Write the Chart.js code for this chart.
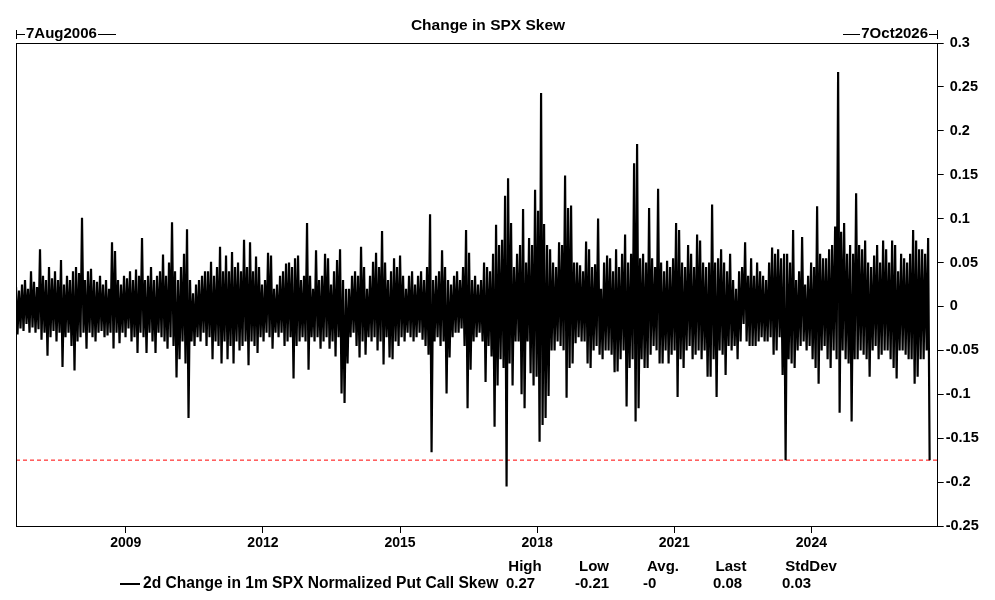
<!DOCTYPE html>
<html>
<head>
<meta charset="utf-8">
<script src="https://cdn.jsdelivr.net/npm/chart.js@4/dist/chart.umd.min.js"></script>
<style>
html,body{margin:0;padding:0;background:#fff;}
#wrap{position:relative;width:995px;height:600px;font-family:"Liberation Sans",Arial,sans-serif;font-weight:bold;color:#000;overflow:hidden;}
#c{position:absolute;left:0;top:0;}
.t{position:absolute;font-size:15px;line-height:16px;white-space:nowrap;}
.hl{display:inline-block;height:1px;background:#000;vertical-align:middle;margin:0 1px;}
.vb{display:inline-block;width:1px;height:9px;background:#000;vertical-align:middle;}
</style>
</head>
<body>
<div id="wrap">
<canvas id="c" width="995" height="600"></canvas>
<div class="t" id="title" style="left:0;width:976px;text-align:center;top:17px;font-size:15.5px;"></div>
<div class="t" id="startLbl" style="left:16px;top:25px;"></div>
<div class="t" id="endLbl" style="right:57px;top:25px;"></div>
<div class="t" id="legend" style="left:120px;top:575px;font-size:15.6px;"></div>
<div id="stats"></div>
</div>
<script>
// ---- data ----
const chartTitle = "Change in SPX Skew";
const seriesName = "2d Change in 1m SPX Normalized Put Call Skew";
const startDateLabel = "7Aug2006";
const endDateLabel = "7Oct2026";
const startYear = 2006.597;   // 7 Aug 2006
const endYear = 2026.764;     // 7 Oct 2026
const periodStep = 0.06565;   // years per sampled period (~24 days)
// per-period high of the 2d change
const periodHigh = [
0.022,0.018,0.025,0.03,0.02,0.04,0.028,0.022,0.065,0.035,
0.03,0.045,0.032,0.04,0.03,0.053,0.025,0.035,0.03,0.04,
0.045,0.038,0.101,0.03,0.04,0.043,0.03,0.028,0.035,0.025,
0.03,0.02,0.073,0.063,0.03,0.025,0.035,0.032,0.04,0.03,
0.042,0.035,0.078,0.03,0.035,0.045,0.03,0.035,0.04,0.059,
0.035,0.05,0.096,0.04,0.03,0.045,0.06,0.088,0.03,0.015,
0.025,0.03,0.035,0.04,0.04,0.051,0.035,0.045,0.068,0.04,
0.058,0.04,0.062,0.045,0.05,0.04,0.076,0.045,0.073,0.04,
0.057,0.045,0.025,0.03,0.061,0.058,0.02,0.025,0.035,0.04,
0.049,0.05,0.045,0.055,0.058,0.03,0.035,0.095,0.035,0.02,
0.064,0.03,0.035,0.06,0.055,0.025,0.04,0.053,0.065,0.03,
0.02,0.02,0.035,0.04,0.035,0.068,0.045,0.02,0.035,0.051,
0.061,0.045,0.086,0.05,0.03,0.04,0.055,0.045,0.058,0.035,
0.02,0.035,0.04,0.025,0.035,0.04,0.03,0.045,0.105,0.03,
0.035,0.04,0.064,0.045,0.03,0.025,0.035,0.04,0.03,0.045,
0.087,0.061,0.03,0.035,0.025,0.03,0.05,0.045,0.04,0.06,
0.093,0.07,0.076,0.126,0.146,0.095,0.045,0.06,0.07,0.111,
0.05,0.078,0.07,0.133,0.109,0.243,0.094,0.07,0.065,0.05,
0.045,0.073,0.07,0.149,0.112,0.115,0.05,0.05,0.047,0.04,
0.074,0.065,0.045,0.048,0.1,0.02,0.05,0.058,0.055,0.04,
0.065,0.045,0.06,0.082,0.05,0.06,0.163,0.185,0.055,0.06,
0.05,0.112,0.055,0.045,0.134,0.05,0.04,0.052,0.045,0.055,
0.095,0.087,0.05,0.045,0.07,0.06,0.045,0.082,0.075,0.05,
0.045,0.05,0.116,0.05,0.055,0.065,0.05,0.04,0.06,0.03,
0.02,0.04,0.045,0.073,0.035,0.055,0.035,0.05,0.04,0.035,
0.03,0.05,0.067,0.06,0.065,0.055,0.06,0.06,0.05,0.087,
0.03,0.04,0.079,0.025,0.035,0.05,0.045,0.114,0.06,0.055,
0.055,0.065,0.07,0.091,0.267,0.085,0.095,0.06,0.07,0.06,
0.129,0.07,0.065,0.075,0.05,0.045,0.058,0.07,0.05,0.075,
0.065,0.05,0.075,0.07,0.04,0.06,0.055,0.05,0.06,0.087,
0.075,0.065,0.065,0.06,0.078
];
// per-period low of the 2d change
const periodLow = [
-0.032,-0.025,-0.028,-0.02,-0.03,-0.024,-0.03,-0.026,-0.038,-0.03,
-0.056,-0.035,-0.028,-0.04,-0.03,-0.069,-0.035,-0.03,-0.045,-0.073,
-0.04,-0.035,-0.03,-0.048,-0.03,-0.035,-0.04,-0.03,-0.028,-0.035,
-0.033,-0.03,-0.048,-0.03,-0.042,-0.03,-0.035,-0.025,-0.04,-0.035,
-0.053,-0.03,-0.035,-0.053,-0.03,-0.04,-0.053,-0.03,-0.035,-0.04,
-0.048,-0.035,-0.045,-0.081,-0.06,-0.04,-0.065,-0.127,-0.04,-0.045,
-0.035,-0.04,-0.03,-0.045,-0.035,-0.06,-0.04,-0.045,-0.065,-0.04,
-0.06,-0.045,-0.065,-0.04,-0.05,-0.045,-0.04,-0.067,-0.04,-0.045,
-0.053,-0.035,-0.04,-0.03,-0.035,-0.048,-0.03,-0.035,-0.03,-0.045,
-0.04,-0.035,-0.082,-0.045,-0.04,-0.035,-0.04,-0.072,-0.035,-0.04,
-0.035,-0.048,-0.04,-0.035,-0.048,-0.04,-0.057,-0.035,-0.099,-0.11,
-0.065,-0.035,-0.03,-0.045,-0.058,-0.04,-0.055,-0.035,-0.04,-0.035,
-0.05,-0.04,-0.066,-0.035,-0.058,-0.06,-0.04,-0.045,-0.035,-0.04,
-0.03,-0.035,-0.04,-0.035,-0.03,-0.038,-0.045,-0.055,-0.166,-0.04,
-0.035,-0.045,-0.04,-0.099,-0.058,-0.035,-0.03,-0.03,-0.025,-0.045,
-0.116,-0.072,-0.04,-0.035,-0.03,-0.04,-0.086,-0.045,-0.057,-0.137,
-0.09,-0.06,-0.07,-0.205,-0.065,-0.09,-0.04,-0.04,-0.1,-0.116,
-0.04,-0.076,-0.09,-0.08,-0.154,-0.135,-0.127,-0.102,-0.05,-0.05,
-0.04,-0.045,-0.05,-0.104,-0.07,-0.065,-0.042,-0.035,-0.04,-0.04,
-0.065,-0.07,-0.05,-0.045,-0.055,-0.06,-0.05,-0.05,-0.055,-0.075,
-0.074,-0.06,-0.05,-0.114,-0.07,-0.06,-0.131,-0.116,-0.06,-0.07,
-0.07,-0.055,-0.045,-0.05,-0.065,-0.065,-0.05,-0.065,-0.055,-0.05,
-0.103,-0.06,-0.07,-0.05,-0.045,-0.06,-0.055,-0.05,-0.06,-0.05,
-0.08,-0.08,-0.06,-0.103,-0.05,-0.055,-0.078,-0.045,-0.05,-0.045,
-0.06,-0.04,-0.02,-0.04,-0.045,-0.045,-0.045,-0.04,-0.035,-0.04,
-0.04,-0.035,-0.055,-0.05,-0.035,-0.078,-0.175,-0.06,-0.065,-0.07,
-0.05,-0.045,-0.04,-0.05,-0.045,-0.06,-0.07,-0.088,-0.05,-0.045,
-0.06,-0.07,-0.05,-0.06,-0.121,-0.05,-0.06,-0.065,-0.131,-0.06,
-0.06,-0.05,-0.055,-0.06,-0.08,-0.05,-0.045,-0.06,-0.055,-0.05,
-0.05,-0.06,-0.07,-0.082,-0.05,-0.05,-0.055,-0.06,-0.06,-0.088,
-0.08,-0.06,-0.06,-0.05,-0.175
];
const refLevel = -0.175;
const yearTicks = [2009, 2012, 2015, 2018, 2021, 2024];
const yTickValues = [-0.25, -0.2, -0.15, -0.1, -0.05, 0, 0.05, 0.1, 0.15, 0.2, 0.25, 0.3];
const yTickLabels = ["-0.25", "-0.2", "-0.15", "-0.1", "-0.05", " 0", " 0.05", " 0.1", " 0.15", " 0.2", " 0.25", " 0.3"];
const statNames = ["High", "Low", "Avg.", "Last", "StdDev"];
const statValues = ["0.27", "-0.21", "-0", "0.08", "0.03"];

// ---- build ----
const FONT = '"Liberation Sans", Arial, sans-serif';
const points = [];
periodHigh.forEach((h, i) => {
  const t = startYear + i * periodStep;
  points.push({x: t, y: h});
  points.push({x: t + periodStep / 2, y: periodLow[i]});
});

document.getElementById('title').textContent = chartTitle;
document.getElementById('startLbl').innerHTML =
  '<span class="vb"></span><span class="hl" style="width:8px;margin-left:0"></span>' + startDateLabel +
  '<span class="hl" style="width:18px"></span>';
document.getElementById('endLbl').innerHTML =
  '<span class="hl" style="width:17px"></span>' + endDateLabel +
  '<span class="hl" style="width:8px;margin-right:0"></span><span class="vb"></span>';
document.getElementById('legend').innerHTML =
  '<span class="hl" style="width:20px;height:2px;margin:0 3px 0 0"></span>' + seriesName;

const statHeadX = [525, 594, 663, 731, 811];
const statValX = [506, 575, 643, 713, 782];
const statsEl = document.getElementById('stats');
statNames.forEach((n, i) => {
  const h = document.createElement('div');
  h.className = 't';
  h.style.left = (statHeadX[i] - 60) + 'px';
  h.style.width = '120px';
  h.style.textAlign = 'center';
  h.style.top = '558px';
  h.textContent = n;
  statsEl.appendChild(h);
  const v = document.createElement('div');
  v.className = 't';
  v.style.left = statValX[i] + 'px';
  v.style.top = '575px';
  v.textContent = statValues[i];
  statsEl.appendChild(v);
});

const framePlugin = {
  id: 'frame',
  afterDatasetsDraw(chart) {
    const a = chart.chartArea, ctx = chart.ctx;
    ctx.save();
    ctx.strokeStyle = '#000';
    ctx.lineWidth = 1;
    ctx.strokeRect(Math.round(a.left) + 0.5, Math.round(a.top) + 0.5,
                   Math.round(a.right - a.left) - 1, Math.round(a.bottom - a.top));
    ctx.restore();
  }
};

new Chart(document.getElementById('c'), {
  type: 'line',
  data: {
    datasets: [
      {
        label: seriesName,
        data: points,
        borderColor: '#000',
        borderWidth: 2.2,
        borderJoinStyle: 'bevel',
        pointRadius: 0,
        tension: 0,
        fill: false
      },
      {
        label: 'ref',
        data: [{x: startYear, y: refLevel}, {x: endYear, y: refLevel}],
        borderColor: '#ff0000',
        borderWidth: 1,
        borderDash: [4, 3],
        pointRadius: 0,
        fill: false
      }
    ]
  },
  options: {
    responsive: false,
    animation: false,
    devicePixelRatio: 1,
    layout: {padding: {left: 16, top: 43, right: 0, bottom: 44}},
    plugins: {legend: {display: false}, title: {display: false}, tooltip: {enabled: false}},
    scales: {
      x: {
        type: 'linear',
        min: startYear,
        max: endYear,
        afterBuildTicks: s => { s.ticks = yearTicks.map(v => ({value: v})); },
        afterFit: s => { s.height = 30; },
        ticks: {
          autoSkip: false, maxRotation: 0, padding: 2,
          color: '#000',
          font: {family: FONT, size: 14, weight: 'bold'},
          callback: v => String(v)
        },
        grid: {drawOnChartArea: false, drawTicks: true, tickLength: 7, color: '#000'},
        border: {display: true, color: '#000', width: 1}
      },
      y: {
        position: 'right',
        min: -0.25,
        max: 0.3,
        afterBuildTicks: s => { s.ticks = yTickValues.map(v => ({value: v})); },
        afterFit: s => { s.width = 57.3; },
        ticks: {
          autoSkip: false, padding: 2,
          color: '#000',
          font: {family: FONT, size: 14.5, weight: 'bold'},
          callback: (v, i) => yTickLabels[i]
        },
        grid: {drawOnChartArea: false, drawTicks: true, tickLength: 6, color: '#000'},
        border: {display: true, color: '#000', width: 1}
      }
    }
  },
  plugins: [framePlugin]
});
</script>
</body>
</html>
